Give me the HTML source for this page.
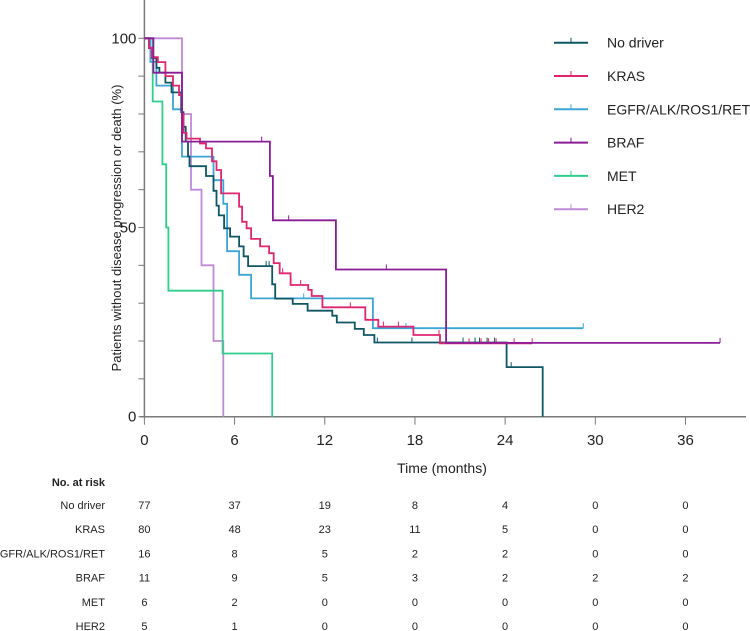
<!DOCTYPE html>
<html><head><meta charset="utf-8"><style>
html,body{margin:0;padding:0;background:#fff;}
svg{display:block;font-family:"Liberation Sans Narrow","Liberation Sans",Arial,sans-serif;}
</style></head><body>
<svg id="chart" width="750" height="631" viewBox="0 0 750 631" xmlns="http://www.w3.org/2000/svg"></svg>
<script>
const xTicks = [0, 6, 12, 18, 24, 30, 36];
const yTicks = [0, 50, 100];
const seriesNames = ["No driver", "KRAS", "EGFR/ALK/ROS1/RET", "BRAF", "MET", "HER2"];
const seriesColors = ["#0e5664", "#e0266e", "#3ba6d6", "#8c1b98", "#2fce8d", "#bf8ad8"];
const noDriverT = [0.3,0.5,0.8,1.0,1.4,1.8,2.45,2.6,2.75,2.9,3.0,4.1,4.6,4.8,4.95,5.3,5.7,6.3,6.6,6.9,8.5,8.7,9.87,10.86,12.5,12.8,14.0,14.6,15.3,24.1,26.5];
const noDriverS = [97.4,94.8,92.2,90.9,88.3,85.7,80.5,76.6,72.7,68.8,66.2,63.6,59.7,55.8,53.2,49.8,47.6,45.0,42.4,39.8,35.0,31.2,29.8,28.0,26.7,24.9,23.2,21.6,19.6,13.1,0];
const noDriverEnd = 26.5;
const noDriverCens = [8.1,8.3,15.5,17.8,21.2,22.0,22.3,22.8,23.3,24.4];
const krasT = [0.3,0.5,0.9,1.4,1.9,2.3,2.5,2.6,2.8,3.7,4.1,4.5,4.8,5.1,6.3,6.5,6.8,7.1,7.7,8.3,8.6,9.0,9.73,10.9,11.13,11.84,14.7,15.56,17.9,19.67];
const krasS = [97.5,95,93.7,90,87.5,85,80,75,73.5,72.2,70.9,67.5,65.2,59,55.5,51.5,49.8,47,45,43.2,40.6,37.9,34.8,33.5,31.9,28.9,25.6,23.8,21.6,19.4];
const krasEnd = 25.8;
const krasCens = [9.2,10.4,13.7,15.9,16.9,19.6,21.6,22.4,22.9,23.4,24.6,25.8];
const egfrT = [0.4,0.8,1.9,2.5,4.6,5.25,5.5,6.3,7.1,15.2];
const egfrS = [93.75,87.5,81.25,68.75,62.5,56.25,43.75,37.5,31.25,23.4];
const egfrEnd = 29.2;
const egfrCens = [10.6,17.4,29.2];
const brafT = [0.6,2.5,8.35,8.55,12.74,20.07];
const brafS = [90.9,72.7,63.6,51.9,38.9,19.5];
const brafEnd = 38.3;
const brafCens = [7.8,9.6,16.1,38.3];
const metT = [0.55,1.2,1.45,1.6,5.2,8.5];
const metS = [83.3,66.7,50,33.3,16.7,0];
const metEnd = 8.5;
const metCens = [];
const her2T = [2.5,3.1,3.8,4.6,5.25];
const her2S = [80,60,40,20,0];
const her2End = 5.25;
const her2Cens = [];
const riskTimes = [0, 6, 12, 18, 24, 30, 36];
const riskNoDriver = [77,37,19,8,4,0,0];
const riskKras = [80,48,23,11,5,0,0];
const riskEgfr = [16,8,5,2,2,0,0];
const riskBraf = [11,9,5,3,2,2,2];
const riskMet = [6,2,0,0,0,0,0];
const riskHer2 = [5,1,0,0,0,0,0];

const X0 = 144.4, PXM = 15.03, Y0 = 416.7, PYP = 3.784;
const sx = t => X0 + t * PXM;
const sy = v => Y0 - v * PYP;
const svg = document.getElementById('chart');
const NS = 'http://www.w3.org/2000/svg';
function mk(tag, attrs, parent) {
  const e = document.createElementNS(NS, tag);
  for (const k in attrs) e.setAttribute(k, attrs[k]);
  (parent || svg).appendChild(e);
  return e;
}
const axisColor = '#7a7a7a';
let e = mk('line', {x1: X0, y1: 0, x2: X0, y2: Y0, stroke: axisColor, 'stroke-width': 1.5});


e = mk('line', {x1: 140, y1: Y0, x2: 746, y2: Y0, stroke: axisColor, 'stroke-width': 1.5});


for (let v = 0; v <= 100; v += 10) {
  e = mk('line', {x1: X0 - 6, y1: sy(v), x2: X0, y2: sy(v), stroke: axisColor, 'stroke-width': 1});
  
  
}
yTicks.forEach(v => {
  const t = mk('text', {x: X0 - 8, y: sy(v) + 5, 'text-anchor': 'end', 'font-size': 15, fill: '#222'});
  t.textContent = v;
  
  
});
xTicks.forEach(v => {
  e = mk('line', {x1: sx(v), y1: Y0, x2: sx(v), y2: Y0 + 8, stroke: axisColor, 'stroke-width': 1});
  
  
  const t = mk('text', {x: sx(v), y: 445, 'text-anchor': 'middle', 'font-size': 15, fill: '#222'});
  t.textContent = v;
  
  
});
e = mk('text', {x: 442, y: 473, 'text-anchor': 'middle', 'font-size': 14, fill: '#222'});
e.textContent = 'Time (months)';


e = mk('text', {x: 0, y: 0, 'text-anchor': 'middle', 'font-size': 13, fill: '#222', transform: 'translate(121,228) rotate(-90)'});
e.textContent = 'Patients without disease progression or death (%)';



const allT = [noDriverT, krasT, egfrT, brafT, metT, her2T];
const allS = [noDriverS, krasS, egfrS, brafS, metS, her2S];
const allEnd = [noDriverEnd, krasEnd, egfrEnd, brafEnd, metEnd, her2End];
const allCens = [noDriverCens, krasCens, egfrCens, brafCens, metCens, her2Cens];
const order = [5, 4, 2, 0, 1, 3];
function survAt(T, S, t) { let v = 100; for (let i = 0; i < T.length; i++) if (T[i] <= t) v = S[i]; return v; }
order.forEach(i => {
  const T = allT[i], S = allS[i];
  let d = 'M' + sx(0) + ' ' + sy(100);
  for (let k = 0; k < T.length; k++) {
    d += ' H' + sx(T[k]).toFixed(1) + ' V' + sy(S[k]).toFixed(1);
  }
  d += ' H' + sx(allEnd[i]).toFixed(1);
  const p = mk('path', {d: d, fill: 'none', stroke: seriesColors[i], 'stroke-width': 1.8});
  
  
  allCens[i].forEach(c => {
    const v = survAt(T, S, c);
    const m = mk('line', {x1: sx(c), y1: sy(v) - 5, x2: sx(c), y2: sy(v), stroke: seriesColors[i], 'stroke-width': 1});
    
    
  });
});

seriesNames.forEach((n, i) => {
  const y = 42.7 + i * 33.3;
  const g = mk('g', {});
  
  
  mk('line', {x1: 554, y1: y, x2: 588, y2: y, stroke: seriesColors[i], 'stroke-width': 2}, g);
  mk('line', {x1: 571, y1: y - 5, x2: 571, y2: y, stroke: seriesColors[i], 'stroke-width': 1}, g);
  const t = mk('text', {x: 607, y: y + 5, 'font-size': 14, fill: '#222'}, g);
  t.textContent = n;
});

e = mk('text', {x: 105, y: 486, 'text-anchor': 'end', 'font-size': 11, 'font-weight': 'bold', fill: '#222'});
e.textContent = 'No. at risk';


const riskRows = [riskNoDriver, riskKras, riskEgfr, riskBraf, riskMet, riskHer2];
riskRows.forEach((row, r) => {
  const y = 509 + r * 24.2;
  const l = mk('text', {x: 105, y: y, 'text-anchor': 'end', 'font-size': 11, fill: '#222'});
  l.textContent = seriesNames[r];
  
  
  row.forEach((v, c) => {
    const t = mk('text', {x: sx(riskTimes[c]), y: y, 'text-anchor': 'middle', 'font-size': 11, fill: '#222'});
    t.textContent = v;
    
    
  });
});
</script>
</body></html>
